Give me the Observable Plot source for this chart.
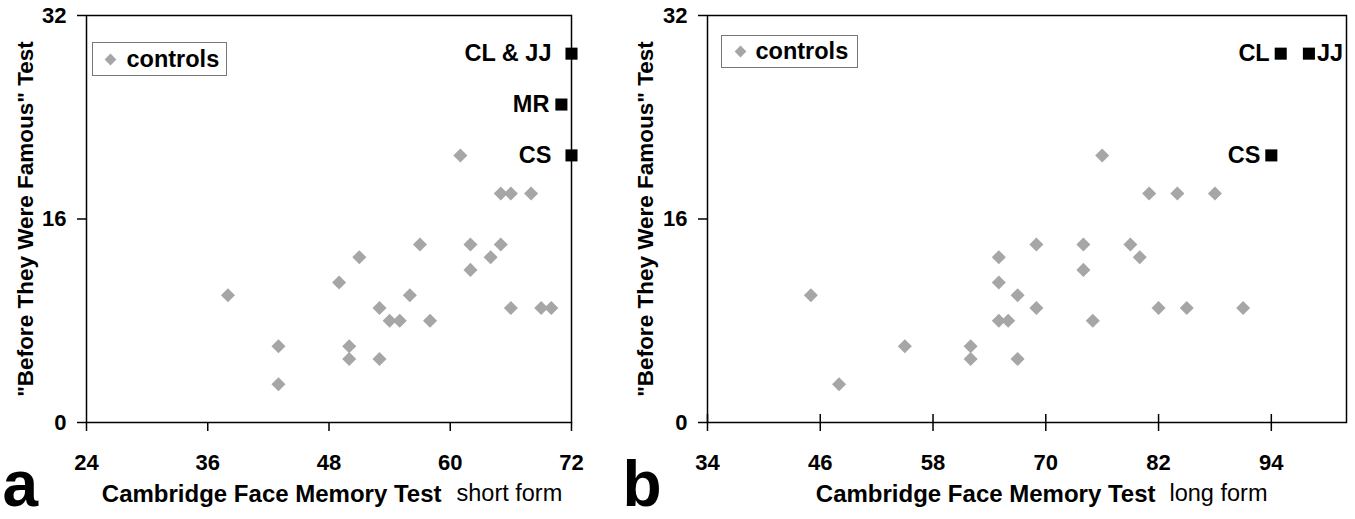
<!DOCTYPE html>
<html>
<head>
<meta charset="utf-8">
<script src="https://cdn.jsdelivr.net/npm/d3@7"></script>
<script src="https://cdn.jsdelivr.net/npm/@observablehq/plot@0.6"></script>
<style>
html, body { margin: 0; padding: 0; background: #fff; }
#wrap { position: relative; width: 1355px; height: 519px; overflow: hidden; background: #fff; }
#pa { position: absolute; left: 0; top: 0; }
#pb { position: absolute; left: 620px; top: 0; }
</style>
</head>
<body>
<div id="wrap"><div id="pa"></div><div id="pb"></div></div>
<script>
// ---------- data ----------
const yTicks = [0, 16, 32];

// panel a: short form
const shortTicks = [24, 36, 48, 60, 72];
const shortX = [38, 43, 43, 49, 51, 50, 50, 53, 53, 54, 55, 56, 57, 58, 61, 62, 62, 64, 65, 65, 66, 66, 68, 69, 70];
const shortY = [10, 6, 3, 11, 13, 6, 5, 9, 5, 8, 8, 10, 14, 8, 21, 14, 12, 13, 14, 18, 18, 9, 18, 9, 9];
const shortPatientNames = ["CL & JJ", "MR", "CS"];
const shortPatientX = [72, 71, 72];
const shortPatientY = [29, 25, 21];

// panel b: long form
const longTicks = [34, 46, 58, 70, 82, 94];
const longX = [45, 48, 55, 62, 62, 65, 65, 65, 66, 67, 67, 69, 69, 74, 74, 75, 76, 79, 80, 81, 82, 84, 85, 88, 91];
const longY = [10, 3, 6, 6, 5, 13, 11, 8, 8, 10, 5, 14, 9, 14, 12, 8, 21, 14, 13, 18, 9, 18, 9, 18, 9];
const longPatientNames = ["CL", "JJ", "CS"];
const longPatientX = [95, 98, 94];
const longPatientY = [29, 29, 21];

const yTitle = "\"Before They Were Famous\" Test";
const xTitle = "Cambridge Face Memory Test";
const legendLabel = "controls";

// ---------- helpers ----------
const FONT = "'Liberation Sans', Arial, Helvetica, sans-serif";
const GRAY = "#a6a6a6";
const diamond = { draw(ctx, size) { const h = Math.sqrt(size / 2); ctx.moveTo(0, -h); ctx.lineTo(h, 0); ctx.lineTo(0, h); ctx.lineTo(-h, 0); ctx.closePath(); } };
const square = { draw(ctx, size) { const s = Math.sqrt(size) / 2; ctx.moveTo(-s, -s); ctx.lineTo(s, -s); ctx.lineTo(s, s); ctx.lineTo(-s, s); ctx.closePath(); } };
const zip = (xs, ys) => xs.map((x, i) => ({ x, y: ys[i] }));
const zipN = (ns, xs, ys) => ns.map((n, i) => ({ name: n, x: xs[i], y: ys[i] }));

function panel({ width, marginLeft, marginRight, domain, ticks, controls, patients, labelMarks, subtitle, letter, legend, titleDx, xTitleEndDx, subStartDx, crossTicks }) {
  const fw = width - marginLeft - marginRight;
  return Plot.plot({
    width, height: 519,
    marginLeft, marginRight, marginTop: 15, marginBottom: 97,
    x: { domain, range: [marginLeft, width - marginRight] },
    y: { domain: [0, 32] },
    style: { fontFamily: FONT, background: "white", overflow: "visible" },
    marks: [
      // legend box
      Plot.frame({ stroke: "#777", strokeWidth: 1, fill: "white", insetLeft: legend.l, insetTop: legend.t, insetRight: fw - legend.r, insetBottom: 407 - legend.b }),
      Plot.dot([0], { frameAnchor: "top-left", dx: legend.dx, dy: legend.dy, symbol: diamond, r: 4.7, fill: GRAY, stroke: "none" }),
      Plot.text([legendLabel], { frameAnchor: "top-left", text: d => d, dx: legend.tx, dy: legend.dy, textAnchor: "start", lineAnchor: "middle", fontSize: 23.5, fontWeight: "bold", fill: "black" }),
      // axes
      Plot.axisY({ ticks: yTicks, tickSize: 9, tickPadding: 11, tickFormat: d => String(d), fontSize: 22, fontWeight: "bold", strokeWidth: 1.5, label: null }),
      Plot.axisX({ ticks, tickSize: 9, tickPadding: 23, tickFormat: d => String(d), fontSize: 22, fontWeight: "bold", strokeWidth: 1.5, label: null }),
      ...(crossTicks ? [Plot.ruleX(ticks, { x: d => d, insetTop: 399, stroke: "black", strokeWidth: 1.5 })] : []),
      Plot.frame({ stroke: "black", strokeWidth: 1.5 }),
      // data
      Plot.dot(controls, { x: "x", y: "y", symbol: diamond, r: 5.6, fill: GRAY, stroke: "none" }),
      Plot.dot(patients, { x: "x", y: "y", symbol: square, r: 6.8, fill: "black", stroke: "none" }),
      ...labelMarks,
      // titles
      Plot.text([yTitle], { frameAnchor: "left", text: d => d, rotate: -90, dx: titleDx, textAnchor: "middle", lineAnchor: "middle", fontSize: 22.5, fontWeight: "bold", fill: "black" }),
      Plot.text([xTitle], { frameAnchor: "bottom-left", text: d => d, dx: xTitleEndDx, dy: 62, textAnchor: "end", lineAnchor: "top", fontSize: 24, fontWeight: "bold", fill: "black" }),
      Plot.text([subtitle], { frameAnchor: "bottom-left", text: d => d, dx: subStartDx, dy: 62, textAnchor: "start", lineAnchor: "top", fontSize: 23.5, fontWeight: "normal", fill: "black" }),
      Plot.text([letter], { frameAnchor: "bottom-left", text: d => d, dx: -marginLeft + 2, dy: 63, textAnchor: "start", lineAnchor: "middle", fontSize: 64, fontWeight: "bold", fill: "black" })
    ]
  });
}

// panel a
const patA = zipN(shortPatientNames, shortPatientX, shortPatientY);
const labA = { x: "x", y: "y", text: "name", textAnchor: "end", lineAnchor: "middle", fontSize: 23.5, fontWeight: "bold", fill: "black" };
const svgA = panel({
  width: 620, marginLeft: 86, marginRight: 49,
  domain: [24, 72], ticks: shortTicks,
  controls: zip(shortX, shortY), patients: patA,
  labelMarks: [
    Plot.text(patA, { ...labA, filter: d => d.name !== "MR", dx: -20 }),
    Plot.text(patA, { ...labA, filter: d => d.name === "MR", dx: -12 })
  ],
  subtitle: "short form", letter: "a",
  legend: { l: 6, t: 27, r: 140, b: 60, dx: 24, dy: 44, tx: 40 },
  titleDx: -61, xTitleEndDx: 355, subStartDx: 370, crossTicks: false
});
document.getElementById("pa").appendChild(svgA);

// panel b
const patB = zipN(longPatientNames, longPatientX, longPatientY);
const labB = { x: "x", y: "y", text: "name", lineAnchor: "middle", fontSize: 23.5, fontWeight: "bold", fill: "black" };
const svgB = panel({
  width: 735, marginLeft: 87, marginRight: 9,
  domain: [34, 102], ticks: longTicks,
  controls: zip(longX, longY), patients: patB,
  labelMarks: [
    Plot.text(patB, { ...labB, filter: d => d.name !== "JJ", textAnchor: "end", dx: -11 }),
    Plot.text(patB, { ...labB, filter: d => d.name === "JJ", textAnchor: "start", dx: 8 })
  ],
  subtitle: "long form", letter: "b",
  legend: { l: 14, t: 20, r: 150, b: 52, dx: 33, dy: 36, tx: 48 },
  titleDx: -62, xTitleEndDx: 448, subStartDx: 462, crossTicks: true
});
document.getElementById("pb").appendChild(svgB);
</script>
</body>
</html>
